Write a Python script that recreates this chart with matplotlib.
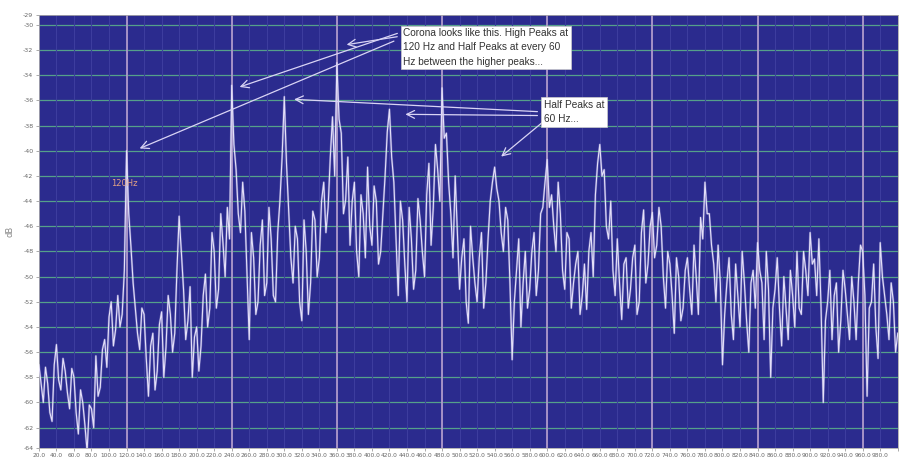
import matplotlib.pyplot as plt
import numpy as np

# Spectrum (dB).
# db_values: one value every 5 Hz from 20 Hz; db_mid: the points halfway between (22.5, 27.5, ...)
freq_start = 20
freq_step = 5
db_values = [
    -57.0, -60.0, -58.5, -61.5, -55.4, -59.0, -57.5, -60.5, -58.0, -62.5, -60.0, -63.9,
    -60.5, -56.3, -58.8, -55.0, -53.2, -55.5, -51.5, -53.0, -40.0, -47.6, -52.5, -55.8,
    -53.0, -59.5, -54.5, -57.5, -52.8, -55.6, -53.0, -54.5, -45.2, -51.0, -53.5, -58.0,
    -54.0, -55.5, -49.8, -52.5, -48.0, -51.0, -47.3, -44.5, -34.8, -41.5, -46.5, -44.8,
    -55.0, -48.5, -52.0, -45.5, -50.5, -47.0, -52.0, -44.0, -35.7, -44.7, -50.5, -47.0,
    -53.5, -48.0, -50.5, -45.5, -48.5, -42.5, -44.5, -37.3, -33.0, -38.6, -43.9, -47.5,
    -42.5, -50.0, -45.0, -41.3, -47.5, -44.0, -48.0, -42.0, -36.7, -42.5, -51.5, -45.5,
    -52.0, -47.0, -49.5, -45.5, -50.0, -41.0, -44.5, -41.5, -35.0, -38.6, -45.0, -42.0,
    -51.0, -47.0, -53.7, -48.5, -52.0, -46.5, -50.5, -44.0, -41.3, -44.0, -48.0, -45.5,
    -56.6, -49.5, -54.0, -48.0, -51.0, -46.5, -49.5, -44.5, -40.7, -43.5, -48.0, -45.0,
    -51.0, -47.0, -50.5, -48.0, -51.5, -52.6, -46.5, -43.5, -39.5, -41.5, -47.0, -49.5,
    -47.0, -53.4, -48.5, -51.0, -47.5, -52.0, -44.7, -49.0, -44.9, -47.5, -46.0, -52.5,
    -49.0, -54.5, -50.0, -52.5, -48.5, -53.0, -50.0, -45.3, -42.5, -45.0, -49.0, -47.5,
    -57.0, -50.5, -53.0, -49.0, -54.0, -50.5, -56.0, -49.5, -47.3, -50.5, -48.0, -58.0,
    -51.0, -52.5, -50.0, -55.0, -51.5, -48.0, -53.0, -49.5, -46.5, -48.6, -47.0, -60.0,
    -52.0, -55.0, -50.5, -53.5, -51.0, -55.0, -52.0, -50.5, -48.0, -59.5, -52.0, -54.0,
    -47.3, -51.5, -55.0, -52.0, -54.5,
]
db_mid = [
    -58.5, -57.2, -60.8, -57.0, -58.2, -56.5, -59.2, -57.3, -60.8, -59.0, -61.8, -60.2,
    -62.0, -59.5, -55.8, -57.2, -52.0, -54.2, -54.0, -49.5, -45.0, -50.5, -54.5, -52.5,
    -56.5, -55.5, -59.0, -53.8, -58.0, -51.5, -56.0, -49.5, -48.0, -55.0, -50.8, -54.8,
    -57.5, -51.5, -54.0, -46.5, -52.5, -45.0, -50.0, -47.0, -39.5, -45.0, -42.5, -50.0,
    -46.5, -53.0, -47.5, -51.5, -44.5, -51.5, -46.5, -40.5, -41.0, -48.5, -46.0, -52.0,
    -45.5, -53.0, -44.8, -50.0, -44.0, -46.5, -40.5, -42.0, -37.5, -45.0, -40.5, -44.0,
    -48.0, -43.5, -48.5, -46.0, -42.8, -49.0, -45.0, -38.5, -40.5, -47.0, -44.0, -49.0,
    -44.5, -51.0, -43.8, -48.0, -43.5, -47.5, -39.5, -44.0, -39.0, -42.5, -48.5, -46.5,
    -48.5, -52.0, -46.0, -50.5, -48.5, -52.5, -47.0, -42.5, -43.0, -46.5, -44.5, -50.5,
    -52.0, -47.0, -50.5, -52.5, -48.0, -51.5, -45.0, -42.5, -44.5, -46.0, -42.5, -49.5,
    -46.5, -52.5, -49.0, -53.0, -49.0, -48.0, -50.0, -41.0, -42.0, -46.0, -44.0, -51.5,
    -50.5, -49.0, -52.5, -48.5, -53.0, -46.5, -50.5, -46.0, -48.5, -44.5, -50.0, -48.0,
    -51.5, -48.5, -53.5, -49.5, -51.0, -47.5, -53.0, -47.0, -45.0, -47.5, -52.0, -50.5,
    -53.0, -48.5, -55.0, -51.5, -48.0, -53.5, -50.5, -52.5, -49.5, -55.0, -51.0, -52.5,
    -48.5, -55.5, -52.5, -49.5, -54.0, -52.5, -48.0, -51.5, -49.0, -51.5, -52.5, -53.5,
    -49.5, -51.5, -56.0, -49.5, -53.0, -50.0, -55.0, -47.5, -51.5, -52.5, -49.0, -56.5,
    -50.0, -53.0, -50.5, -56.0,
]

harmonics = [120, 240, 360, 480, 600, 720, 840, 960]
x_ticks = list(range(20, 1001, 20))
y_grid = list(range(-30, -63, -2))

note_main = "Corona looks like this. High Peaks at\n120 Hz and Half Peaks at every 60\nHz between the higher peaks..."
note_half = "Half Peaks at\n60 Hz..."

# interleave the two readings into one trace
n = len(db_values)
freqs = np.empty(2 * n - 1)
trace = np.empty(2 * n - 1)
freqs[0::2] = freq_start + freq_step * np.arange(n)
freqs[1::2] = freq_start + freq_step * (np.arange(n - 1) + 0.5)
trace[0::2] = db_values
trace[1::2] = db_mid

fig = plt.figure(figsize=(9.05, 4.65), dpi=100)
fig.patch.set_facecolor('white')
ax = fig.add_axes([0.043, 0.037, 0.949, 0.931])
ax.set_facecolor('#2b2b8e')

ax.set_xlim(20, 1000)
ax.set_ylim(-63.6, -29.2)

# grid
for y in y_grid:
    ax.axhline(y, color='#55a08a', lw=0.9, zorder=1)
for x in x_ticks:
    ax.axvline(x, color='#3d3d9e', lw=0.8, zorder=1)
for h in harmonics:
    ax.axvline(h, color='#b9a3cf', lw=1.2, zorder=1)

ax.plot(freqs, trace, color='#c8c0f0', lw=1.6, alpha=0.35, zorder=2)
ax.plot(freqs, trace, color='#e4e0f9', lw=0.8, zorder=3)

# ticks
ax.set_xticks(x_ticks)
ax.set_xticklabels([f'{x:.1f}' if x < 1000 else '' for x in x_ticks],
                   fontsize=4.2, color='#666666')
yt = [-29.2] + y_grid + [-63.6]
ax.set_yticks(yt)
ax.set_yticklabels([f'{y:.0f}' for y in yt], fontsize=4.5, color='#666666')
ax.tick_params(length=2, width=0.5, color='#888888', pad=2)
for s in ax.spines.values():
    s.set_color('#aaaaaa')
    s.set_linewidth(0.6)
ax.set_ylabel('dB', fontsize=6, color='#888888', labelpad=6)

# annotations
font = ['Liberation Sans Narrow', 'Liberation Sans', 'DejaVu Sans']
ax.text(435.5, -30.25, note_main, fontsize=7.3, family=font, color='#333333',
        va='top', ha='left', linespacing=1.55, zorder=6,
        bbox=dict(boxstyle='square,pad=0.25', fc='white', ec='#cccccc', lw=0.5))
ax.text(596, -35.95, note_half, fontsize=7.3, family=font, color='#333333',
        va='top', ha='left', linespacing=1.55, zorder=6,
        bbox=dict(boxstyle='square,pad=0.25', fc='white', ec='#cccccc', lw=0.5))

arrow = dict(arrowstyle='->', color='#d9d4f5', lw=0.9, mutation_scale=14)
for tip, start in [((368, -31.6), (432, -30.9)),
                   ((246, -35.0), (432, -30.6)),
                   ((132, -39.9), (428, -31.2)),
                   ((308, -35.9), (592, -36.9)),
                   ((435, -37.1), (592, -37.2)),
                   ((545, -40.6), (597, -37.6))]:
    ax.annotate('', xy=tip, xytext=start, arrowprops=arrow, zorder=5)

ax.text(102, -42.6, '120Hz', fontsize=6, color='#e0a184', ha='left', va='center')

fig.savefig('out.png', dpi=100)
